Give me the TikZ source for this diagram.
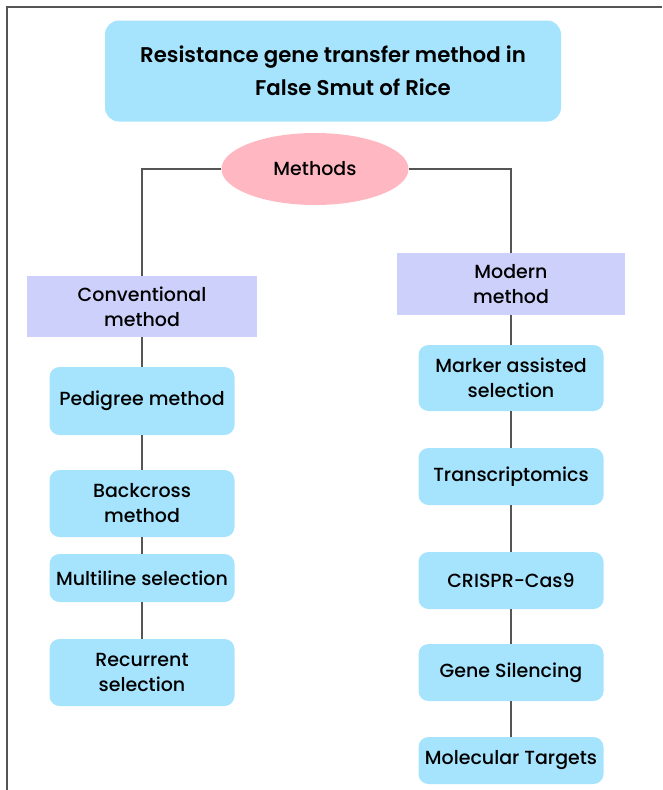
\documentclass[tikz,border=0pt]{standalone}
\usepackage{fontspec}
\setmainfont{Poppins}[UprightFont={* Medium}, BoldFont={* SemiBold}]
\usetikzlibrary{shapes.geometric}
\definecolor{boxblue}{HTML}{A6E3FD}
\definecolor{lav}{HTML}{CDD0FB}
\definecolor{pinkish}{HTML}{FFB8C2}
\definecolor{linegray}{HTML}{555555}
\begin{document}
\begin{tikzpicture}[x=1pt,y=-1pt,
  every node/.style={inner sep=0pt, align=center, text=black},
  bluebox/.style={fill=boxblue, rounded corners=10pt, minimum width=185pt, font=\fontsize{19}{25}\selectfont},
  lavbox/.style={fill=lav, font=\fontsize{19}{25}\selectfont},
  conn/.style={draw=linegray, line width=1.3pt}
]
\useasboundingbox (0,0) rectangle (662,790);
\draw[linegray, line width=1.5pt] (7,790) -- (7,7) -- (662,7);
\node[fill=boxblue, rounded corners=14pt, minimum width=456pt, minimum height=101pt, font=\bfseries\fontsize{21.3}{33}\selectfont] (title) at (333,71) {Resistance gene transfer method in\\\hspace*{40pt}False Smut of Rice};
\node[ellipse, fill=pinkish, minimum width=187pt, minimum height=72pt, font=\fontsize{19}{24}\selectfont] (meth) at (315,169) {Methods};
\node[lavbox, minimum width=230pt, minimum height=61pt] (conv) at (142,306.5) {Conventional\\method};
\node[lavbox, minimum width=228pt, minimum height=62pt] (mod) at (511,284) {Modern\\method};
\node[bluebox, minimum height=68pt] (ped) at (142,401) {Pedigree method};
\node[bluebox, minimum height=67pt] (back) at (142,503.5) {Backcross\\method};
\node[bluebox, minimum height=48pt] (multi) at (142,578) {Multiline selection};
\node[bluebox, minimum height=67pt] (recur) at (142,672.5) {Recurrent\\selection};
\node[bluebox, minimum height=66pt] (mark) at (511,378) {Marker assisted\\selection};
\node[bluebox, minimum height=57pt] (trans) at (511,476.5) {Transcriptomics};
\node[bluebox, minimum height=57pt] (cris) at (511,580.5) {CRISPR-Cas9};
\node[bluebox, minimum height=57pt] (gene) at (511,672.5) {Gene Silencing};
\node[bluebox, minimum height=47pt] (molec) at (511,760.5) {Molecular Targets};
\draw[conn] (meth.west) -| (conv.north);
\draw[conn] (meth.east) -| (mod.north);
\draw[conn] (conv) -- (ped);
\draw[conn] (ped) -- (back);
\draw[conn] (back) -- (multi);
\draw[conn] (multi) -- (recur);
\draw[conn] (mod) -- (mark);
\draw[conn] (mark) -- (trans);
\draw[conn] (trans) -- (cris);
\draw[conn] (cris) -- (gene);
\draw[conn] (gene) -- (molec);
\end{tikzpicture}
\end{document}
